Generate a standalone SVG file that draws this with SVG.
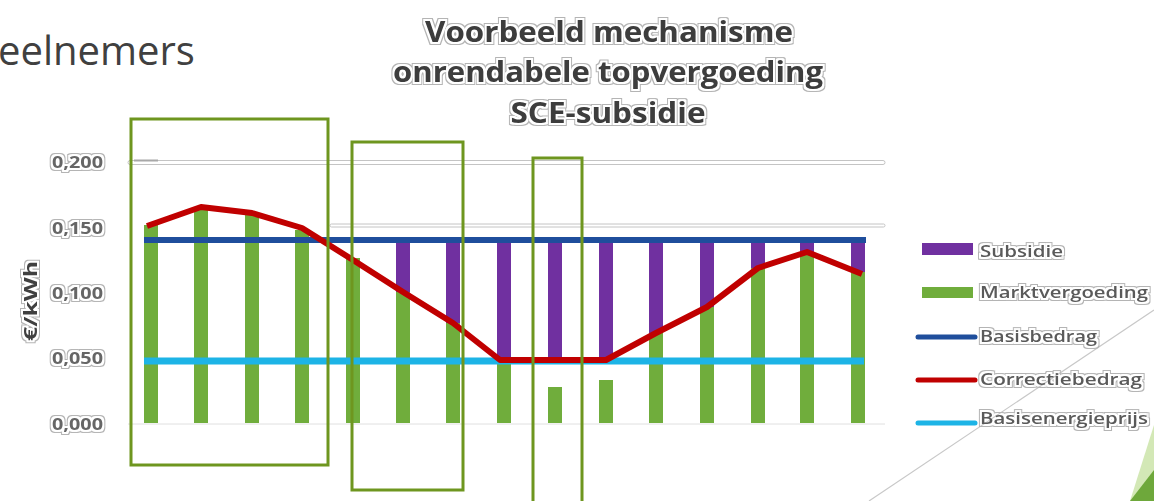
<svg xmlns="http://www.w3.org/2000/svg" width="1154" height="501" viewBox="0 0 1154 501">
<defs>
<filter id="halo" x="-10%" y="-30%" width="120%" height="160%">
<feMorphology in="SourceAlpha" operator="dilate" radius="3" result="d3"/>
<feMorphology in="SourceAlpha" operator="dilate" radius="2" result="d2"/>
<feComposite in="d3" in2="d2" operator="out" result="ring"/>
<feFlood flood-color="#b4b4b4" result="c"/>
<feComposite in="c" in2="ring" operator="in" result="ringc"/>
<feGaussianBlur in="SourceGraphic" stdDeviation="0.5" result="soft"/>
<feMerge><feMergeNode in="ringc"/><feMergeNode in="soft"/></feMerge>
</filter>
<style>
.title{font-family:"Open Sans","Liberation Sans",sans-serif;font-weight:700;font-size:29px;fill:#3c3c3c;text-anchor:middle}
.ylab{font-family:"Open Sans","Liberation Sans",sans-serif;font-weight:700;font-size:16px;fill:#666;text-anchor:end}
.leg{font-family:"Open Sans","Liberation Sans",sans-serif;font-weight:600;font-size:17px;fill:#5a5a5a}
.green{fill:#70ad3c}
.purple{fill:#7030a0}
.box{fill:none;stroke:#6e961f;stroke-width:3}
.grid{fill:#fff;stroke:#c4c4c4;stroke-width:1}
</style>
</defs>
<rect width="1154" height="501" fill="#fff"/>

<!-- decorative -->
<line x1="1154" y1="310" x2="869" y2="501" stroke="#c8c8c8" stroke-width="1.2"/>
<polygon points="1154,425 1130,501 1154,501" fill="#d3e8b6"/>
<polygon points="1130,501 1154,470 1154,501" fill="#6ea83b"/>

<text x="-2" y="65" font-family="'Open Sans','Liberation Sans',sans-serif" font-size="40" fill="#404040">eelnemers</text>

<g id="title" filter="url(#halo)">
<text class="title" x="609" y="42" textLength="368" lengthAdjust="spacingAndGlyphs">Voorbeeld mechanisme</text>
<text class="title" x="608" y="82" textLength="430" lengthAdjust="spacingAndGlyphs">onrendabele topvergoeding</text>
<text class="title" x="608" y="123" textLength="195" lengthAdjust="spacingAndGlyphs">SCE-subsidie</text>
</g>

<!-- gridlines -->
<g id="grid">
<rect class="grid" x="128" y="160.5" width="757" height="4" rx="2"/>
<rect x="134" y="159.5" width="24" height="2" fill="#a8a8a8"/>
<rect class="grid" x="330" y="224" width="555" height="3" rx="1.5"/>
<line x1="128" y1="424" x2="885" y2="424" stroke="#e0e0e0" stroke-width="1"/>
</g>

<g id="yaxis" filter="url(#halo)">
<text class="ylab" x="103" y="168" textLength="51" lengthAdjust="spacingAndGlyphs">0,200</text>
<text class="ylab" x="103" y="234" textLength="51" lengthAdjust="spacingAndGlyphs">0,150</text>
<text class="ylab" x="103" y="299" textLength="51" lengthAdjust="spacingAndGlyphs">0,100</text>
<text class="ylab" x="103" y="364" textLength="51" lengthAdjust="spacingAndGlyphs">0,050</text>
<text class="ylab" x="103" y="430" textLength="51" lengthAdjust="spacingAndGlyphs">0,000</text>
<text transform="translate(37,301) rotate(-90)" text-anchor="middle" font-family="'Open Sans','Liberation Sans',sans-serif" font-weight="700" font-size="17" fill="#404040" textLength="80" lengthAdjust="spacingAndGlyphs">€/kWh</text>
</g>

<!-- bars: Marktvergoeding (green) and Subsidie (purple) -->
<g id="bars">
<rect class="green" x="144" y="225" width="14" height="198"/>
<rect class="green" x="194" y="207" width="14" height="216"/>
<rect class="green" x="245" y="213" width="14" height="210"/>
<rect class="green" x="295" y="230" width="14" height="193"/>
<rect class="green" x="346" y="258" width="14" height="165"/>
<rect class="green" x="396" y="292" width="14" height="131"/>
<rect class="green" x="446" y="323" width="14" height="100"/>
<rect class="green" x="497" y="358" width="14" height="65"/>
<rect class="green" x="548" y="387" width="14" height="36"/>
<rect class="green" x="599" y="380" width="14" height="43"/>
<rect class="green" x="649" y="333" width="14" height="90"/>
<rect class="green" x="700" y="307" width="14" height="116"/>
<rect class="green" x="751" y="268" width="14" height="155"/>
<rect class="green" x="800" y="252" width="14" height="171"/>
<rect class="green" x="851" y="272" width="14" height="151"/>
<rect class="purple" x="396" y="241" width="14" height="51"/>
<rect class="purple" x="446" y="241" width="14" height="82"/>
<rect class="purple" x="497" y="241" width="14" height="117"/>
<rect class="purple" x="548" y="241" width="14" height="119"/>
<rect class="purple" x="599" y="241" width="14" height="118"/>
<rect class="purple" x="649" y="241" width="14" height="92"/>
<rect class="purple" x="700" y="241" width="14" height="66"/>
<rect class="purple" x="751" y="241" width="14" height="27"/>
<rect class="purple" x="800" y="241" width="14" height="11"/>
<rect class="purple" x="851" y="241" width="14" height="31"/>
</g>

<!-- series lines -->
<g id="lines" fill="none" stroke-linejoin="round">
<line id="basisenergieprijs" x1="144" y1="361" x2="864" y2="361" stroke="#1db4e6" stroke-width="7"/>
<line id="basisbedrag" x1="144" y1="240" x2="866" y2="240" stroke="#1f4e9c" stroke-width="6"/>
<polyline id="correctiebedrag" points="147,226 201,207 252,213 302,228 353,260 403,292 453,323 500,360 606,360 656,333 707,307 758,268 807,252 862,274" stroke="#c00000" stroke-width="6"/>
</g>

<g id="legend">
<rect x="922" y="243" width="51" height="12" fill="#7030a0"/>
<rect x="922" y="287" width="51" height="11" fill="#70ad3c"/>
<line x1="918" y1="337" x2="975" y2="337" stroke="#1f4e9c" stroke-width="5" stroke-linecap="round"/>
<line x1="918" y1="380" x2="975" y2="380" stroke="#c00000" stroke-width="5" stroke-linecap="round"/>
<line x1="918" y1="423" x2="975" y2="423" stroke="#1db4e6" stroke-width="5" stroke-linecap="round"/>
<g filter="url(#halo)">
<text class="leg" x="980" y="257" textLength="83" lengthAdjust="spacingAndGlyphs">Subsidie</text>
<text class="leg" x="980" y="298" textLength="168" lengthAdjust="spacingAndGlyphs">Marktvergoeding</text>
<text class="leg" x="980" y="342" textLength="117" lengthAdjust="spacingAndGlyphs">Basisbedrag</text>
<text class="leg" x="980" y="385" textLength="162" lengthAdjust="spacingAndGlyphs">Correctiebedrag</text>
<text class="leg" x="980" y="424" textLength="168" lengthAdjust="spacingAndGlyphs">Basisenergieprijs</text>
</g>
</g>

<!-- highlight boxes -->
<g id="box1"><rect class="box" x="131" y="119" width="197" height="346"/></g>
<g id="box2"><rect class="box" x="352" y="142" width="111" height="348"/></g>
<g id="box3"><rect class="box" x="533" y="158" width="49" height="360"/></g>
</svg>
